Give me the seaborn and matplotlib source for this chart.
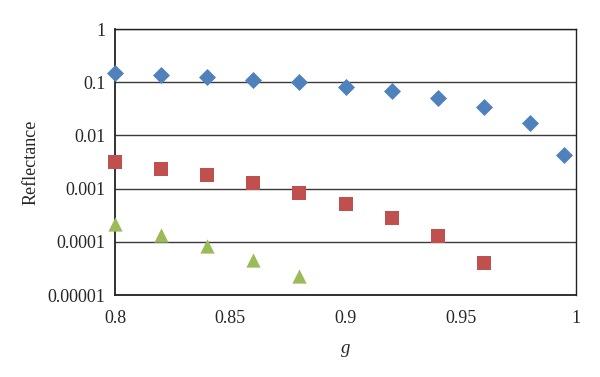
"""
Reflectance vs g, log scale scatter
"""

import numpy as np
import pandas as pd
import matplotlib
matplotlib.use("Agg")
import matplotlib.pyplot as plt
import seaborn as sns

# data
g_blue = [0.80, 0.82, 0.84, 0.86, 0.88, 0.90, 0.92, 0.94, 0.96, 0.98, 0.995]
r_blue = [0.150, 0.137, 0.124, 0.110, 0.100, 0.081, 0.067, 0.051, 0.034, 0.0172, 0.0043]

g_red = [0.80, 0.82, 0.84, 0.86, 0.88, 0.90, 0.92, 0.94, 0.96]
r_red = [0.0031, 0.00238, 0.00183, 0.00128, 0.00083, 0.000515, 0.000277, 0.000126, 0.0000403]

g_green = [0.80, 0.82, 0.84, 0.86, 0.88]
r_green = [0.000218, 0.000135, 0.0000817, 0.0000459, 0.0000229]

x_ticks = [0.8, 0.85, 0.9, 0.95, 1.0]
x_labels = ['0.8', '0.85', '0.9', '0.95', '1']
y_ticks = [1e-5, 1e-4, 1e-3, 1e-2, 1e-1, 1]
y_labels = ['0.00001', '0.0001', '0.001', '0.01', '0.1', '1']

df = pd.concat([
    pd.DataFrame({'g': g_blue, 'R': r_blue, 'series': 'a'}),
    pd.DataFrame({'g': g_red, 'R': r_red, 'series': 'b'}),
    pd.DataFrame({'g': g_green, 'R': r_green, 'series': 'c'}),
], ignore_index=True)

sns.set_style("white")
plt.rcParams['font.family'] = ['Liberation Serif', 'DejaVu Serif']

fig = plt.figure(figsize=(6.0, 3.77), dpi=100)
ax = fig.add_axes([0.1917, 0.2175, 0.7683, 0.7055])

palette = {'a': '#4F81BD', 'b': '#C0504D', 'c': '#9BBB59'}
markers = {'a': 'D', 'b': 's', 'c': '^'}

for key, size in [('a', 75), ('b', 95), ('c', 105)]:
    sub = df[df['series'] == key]
    sns.scatterplot(data=sub, x='g', y='R', marker=markers[key],
                    color=palette[key], s=size, linewidth=0,
                    ax=ax, legend=False, zorder=3, clip_on=False)

ax.set_yscale('log')
ax.set_xlim(0.8, 1.0)
ax.set_ylim(1e-5, 1)
ax.set_xticks(x_ticks)
ax.set_xticklabels(x_labels)
ax.set_yticks(y_ticks)
ax.set_yticklabels(y_labels)
ax.minorticks_off()

ax.yaxis.grid(True, color='#3a3a3a', linewidth=1.0)
ax.xaxis.grid(False)
ax.set_axisbelow(True)
for side in ['left', 'bottom']:
    ax.spines[side].set_color('#222222')
    ax.spines[side].set_linewidth(1.3)
for side in ['top', 'right']:
    ax.spines[side].set_color('#222222')
    ax.spines[side].set_linewidth(1.0)

ax.tick_params(axis='both', direction='out', length=5, width=1.2,
               color='#222222', labelsize=13, pad=3)
ax.tick_params(axis='x', pad=6)
ax.tick_params(axis='y', pad=2)

ax.set_xlabel('g', fontsize=13.5, style='italic', labelpad=9)
ax.set_ylabel('Reflectance', fontsize=13, labelpad=6)

fig.savefig('out.png', dpi=100)
